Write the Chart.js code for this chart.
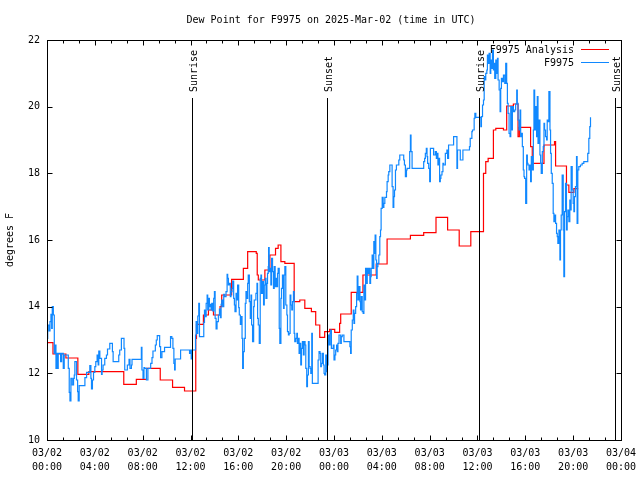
<!DOCTYPE html>
<html lang="en">
<head>
<meta charset="UTF-8">
<title>Dew Point for F9975</title>
<script src="https://cdn.jsdelivr.net/npm/chart.js@4"></script>
<style>
  html, body { margin: 0; padding: 0; background: #fff; }
</style>
</head>
<body>
<canvas id="dewChart" width="640" height="480"></canvas>
<script>
const titleText = 'Dew Point for F9975 on 2025-Mar-02 (time in UTC)';
const yLabel = 'degrees F';
const seriesNames = ['F9975 Analysis', 'F9975'];

// hours since 03/02 00:00 UTC
const sunNames = ['Sunrise', 'Sunset', 'Sunrise', 'Sunset'];
const sunHours = [12.12, 23.42, 36.13, 47.53];

// analysis (step values, each holds until the next time)
const redHours = [0, 0.5, 1.58, 2.58, 3.5, 6.42, 7.47, 8.33, 9.47, 10.5, 11.5, 12.44, 12.5, 13.08, 13.5, 13.92, 14.47, 14.61, 15.44, 16.42, 16.78,
  17.5, 17.58, 17.67, 18.22, 18.64, 19.11, 19.33, 19.56, 19.89, 20.67, 21.14, 21.56, 22.11, 22.47, 22.81, 23.22, 23.64, 24.06, 24.47, 24.56,
  25.44, 26.42, 27.53, 28.44, 30.39, 31.5, 32.53, 33.5, 34.47, 35.44, 36.5, 36.69, 36.89, 37.33, 37.53, 38.17, 38.44, 39.0, 39.39, 39.5,
  40.44, 40.58, 41.56, 42.44, 42.53, 43.44, 43.64, 44.06, 44.42];
const redDew = [12.92, 12.58, 12.46, 11.97, 12.05, 11.67, 11.82, 12.15, 11.8, 11.58, 11.47, 13.05, 13.47, 13.75, 13.9, 13.75, 14.0, 14.35, 14.82, 15.15, 15.65,
  15.6, 14.95, 14.8, 15.1, 15.55, 15.75, 15.85, 15.35, 15.3, 14.15, 14.2, 13.95, 13.85, 13.45, 13.08, 13.25, 13.32, 13.23, 13.5, 13.78,
  14.43, 14.95, 15.28, 16.03, 16.14, 16.22, 16.68, 16.3, 15.82, 16.25, 18.0, 18.35, 18.45, 19.3, 19.35, 19.3, 20.02, 20.08, 19.1, 19.38,
  18.8, 18.3, 18.85, 18.95, 18.22, 17.65, 17.43, 17.54, 17.54];

// station observations
const blueHours = [0, 0.06, 0.17, 0.25, 0.33, 0.39, 0.44, 0.53, 0.61, 0.67, 0.75, 0.8, 0.89, 0.94, 1.14, 1.22, 1.36, 1.44, 1.78, 1.86, 1.92,
  2.0, 2.11, 2.22, 2.28, 2.33, 2.47, 2.56, 2.61, 2.69, 3.17, 3.31, 3.58, 3.67, 3.72, 3.8, 3.89, 4.0, 4.08, 4.19, 4.28, 4.33, 4.42, 4.56,
  4.61, 4.69, 4.83, 4.97, 5.06, 5.25, 5.47, 5.53, 6.0, 6.08, 6.22, 6.44, 6.5, 6.72, 6.86, 6.94, 7.06, 7.11, 7.89, 7.94, 8.03, 8.11,
  8.17, 8.31, 8.44, 8.67, 8.78, 8.86, 9.06, 9.14, 9.22, 9.42, 9.5, 9.61, 9.83, 10.33, 10.44, 10.53, 10.61, 10.67, 10.72, 11.17, 11.92,
  12.0, 12.06, 12.14, 12.42, 12.47, 12.56, 12.61, 12.69, 12.75, 13.11, 13.17, 13.25, 13.31, 13.39, 13.44, 13.53, 13.58, 13.67, 13.72,
  13.78, 13.86, 13.94, 14.0, 14.06, 14.14, 14.22, 14.33, 14.42, 14.5, 14.56, 14.61, 14.69, 14.78, 14.83, 14.97, 15.06, 15.11, 15.17,
  15.25, 15.33, 15.39, 15.47, 15.53, 15.61, 15.67, 15.72, 15.81, 15.89, 15.94, 16.03, 16.08, 16.17, 16.22, 16.31, 16.36, 16.42, 16.5,
  16.58, 16.64, 16.72, 16.78, 16.83, 16.92, 17.0, 17.06, 17.11, 17.19, 17.28, 17.33, 17.47, 17.56, 17.61, 17.67, 17.75, 17.83, 17.89,
  17.94, 18.03, 18.11, 18.17, 18.25, 18.31, 18.39, 18.44, 18.5, 18.53, 18.58, 18.67, 18.72, 18.78, 18.86, 18.94, 19.0, 19.08, 19.14,
  19.22, 19.28, 19.33, 19.42, 19.47, 19.56, 19.61, 19.69, 19.78, 19.83, 19.89, 19.97, 20.06, 20.11, 20.19, 20.25, 20.33, 20.39, 20.47,
  20.53, 20.61, 20.67, 20.72, 20.81, 20.89, 20.94, 21.03, 21.08, 21.17, 21.22, 21.28, 21.36, 21.44, 21.5, 21.58, 21.64, 21.72, 21.78,
  21.86, 21.92, 22.0, 22.06, 22.14, 22.19, 22.67, 22.75, 22.83, 22.89, 22.94, 23.03, 23.11, 23.17, 23.22, 23.31, 23.39, 23.44, 23.5,
  23.58, 23.67, 23.72, 23.78, 23.94, 24.0, 24.08, 24.14, 24.22, 24.28, 24.33, 24.42, 24.56, 24.61, 24.69, 24.83, 25.33, 25.39, 25.44,
  25.53, 25.61, 25.67, 25.72, 25.81, 25.89, 25.94, 26.0, 26.08, 26.17, 26.22, 26.28, 26.36, 26.44, 26.5, 26.56, 26.64, 26.72, 26.78,
  26.83, 26.92, 27.0, 27.06, 27.11, 27.19, 27.28, 27.33, 27.39, 27.44, 27.5, 27.56, 27.61, 27.67, 27.75, 27.83, 27.89, 27.94, 28.03,
  28.11, 28.17, 28.25, 28.39, 28.44, 28.53, 28.58, 28.67, 28.86, 28.94, 29.0, 29.06, 29.14, 29.22, 29.42, 29.5, 29.83, 29.89, 29.97,
  30.06, 30.11, 30.33, 30.39, 30.44, 30.53, 31.5, 31.58, 31.64, 31.72, 31.78, 31.83, 31.92, 32.0, 32.06, 32.33, 32.47, 32.56, 32.61,
  32.69, 32.75, 32.83, 32.89, 32.94, 33.03, 33.11, 33.17, 33.31, 33.44, 33.5, 33.58, 34.0, 34.28, 34.33, 34.56, 34.78, 35.33, 35.39,
  35.53, 35.58, 35.72, 35.78, 35.86, 36.28, 36.33, 36.42, 36.5, 36.56, 36.61, 36.69, 36.78, 36.83, 36.89, 36.97, 37.06, 37.11, 37.17,
  37.25, 37.33, 37.39, 37.44, 37.53, 37.61, 37.67, 37.72, 37.81, 37.89, 37.94, 38.0, 38.08, 38.17, 38.28, 38.36, 38.44, 38.5, 38.56,
  38.64, 38.72, 38.78, 38.83, 38.92, 39.0, 39.11, 39.19, 39.28, 39.33, 39.39, 39.47, 39.56, 39.61, 39.67, 39.75, 39.83, 39.89, 39.94,
  40.03, 40.11, 40.17, 40.22, 40.31, 40.39, 40.44, 40.5, 40.58, 40.67, 40.72, 40.78, 40.86, 40.94, 41.0, 41.06, 41.14, 41.22, 41.28,
  41.33, 41.42, 41.5, 41.56, 41.61, 41.69, 41.78, 41.83, 41.89, 41.97, 42.06, 42.11, 42.17, 42.25, 42.33, 42.39, 42.44, 42.53, 42.61,
  42.67, 42.72, 42.81, 42.89, 42.94, 43.0, 43.08, 43.17, 43.22, 43.28, 43.36, 43.44, 43.5, 43.56, 43.64, 43.72, 43.78, 43.83, 43.92,
  44.0, 44.06, 44.11, 44.19, 44.28, 44.33, 44.39, 44.47, 44.61, 44.75, 44.89, 45.11, 45.22, 45.31, 45.39, 45.45];
const blueDew = [13.05, 13.45, 13.27, 13.55, 13.77, 13.35, 14.0, 13.75, 12.6, 12.85, 12.15, 12.6, 12.15, 12.6, 12.35, 12.6, 12.15, 12.55, 12.15, 11.43, 11.17,
  11.85, 11.65, 11.85, 11.95, 12.35, 11.8, 11.45, 11.17, 11.63, 11.87, 12.03, 12.23, 11.85, 11.53, 11.8, 12.03, 12.2, 12.35, 12.55, 12.25, 12.67, 12.45, 11.97,
  12.1, 12.25, 12.45, 12.55, 12.73, 12.9, 12.65, 12.35, 12.55, 12.7, 13.05, 12.75, 12.1, 12.25, 12.42, 12.15, 12.25, 12.42, 12.78, 12.1, 11.85, 12.17,
  12.15, 11.8, 12.15, 12.3, 12.47, 12.67, 12.85, 13.0, 13.13, 12.8, 12.47, 12.65, 12.78, 13.1, 13.05, 12.75, 12.3, 12.1, 12.43, 12.7, 12.6,
  12.7, 12.43, 12.7, 13.15, 13.55, 13.2, 13.72, 14.1, 13.1, 13.53, 13.9, 13.7, 14.1, 14.35, 13.9, 14.25, 14.0, 14.07, 13.9,
  14.1, 13.87, 14.25, 14.45, 13.65, 13.33, 13.55, 13.75, 13.93, 13.67, 14.07, 14.2, 14.0, 14.37, 14.3, 14.45, 14.97, 14.85, 14.65,
  14.7, 14.3, 14.45, 14.55, 14.77, 14.25, 14.05, 13.85, 14.4, 14.2, 14.65, 13.97, 13.75, 13.47, 13.7, 13.05, 12.15, 12.65, 13.05,
  14.1, 14.45, 14.25, 14.7, 14.95, 14.15, 13.65, 14.35, 13.45, 12.95, 14.0, 14.2, 14.4, 14.7, 13.65, 13.45, 12.9, 14.85, 14.95,
  14.4, 14.75, 14.05, 14.65, 14.85, 14.25, 14.7, 15.0, 15.2, 15.77, 15.05, 15.15, 14.65, 15.45, 15.05, 14.55, 15.2, 14.6, 14.85,
  14.6, 15.0, 15.15, 13.35, 12.9, 14.25, 14.55, 14.95, 13.95, 14.95, 15.2, 14.05, 13.75, 13.25, 13.15, 13.2, 14.35, 14.05, 13.9,
  14.15, 14.45, 13.2, 12.95, 13.05, 13.2, 12.9, 13.05, 12.6, 12.9, 12.25, 12.75, 12.95, 12.55, 12.95, 12.85, 12.15, 11.6, 11.95,
  12.95, 12.2, 12.15, 12.0, 13.2, 11.7, 12.4, 12.65, 12.6, 12.2, 12.3, 12.6, 12.25, 12.0, 11.95, 12.55, 12.05, 12.25, 13.15,
  12.85, 13.2, 13.3, 12.75, 12.85, 12.4, 12.55, 12.7, 12.85, 12.65, 12.9, 13.15, 12.9, 13.1, 13.15, 12.95, 12.8, 12.6, 13.3,
  13.6, 13.9, 13.5, 13.8, 14.0, 14.4, 14.92, 14.2, 14.6, 14.15, 13.9, 14.3, 13.85, 13.8, 14.65, 14.2, 15.15, 14.7, 15.15,
  15.0, 15.15, 14.7, 14.9, 15.15, 15.55, 15.15, 15.95, 15.6, 16.15, 15.4, 14.85, 15.2, 15.3, 15.55, 16.1, 16.3, 16.95, 17.28,
  16.98, 17.1, 17.28, 17.45, 17.75, 17.95, 18.05, 18.25, 17.6, 16.98, 17.3, 17.5, 18.1, 18.25, 18.4, 18.55, 18.4, 18.25, 17.9,
  18.1, 18.15, 18.65, 19.15, 18.65, 18.15, 18.35, 18.45, 18.6, 18.75, 18.5, 18.3, 18.15, 17.75, 18.75, 18.55, 18.65, 18.45, 18.6,
  18.25, 18.45, 17.75, 17.85, 17.95, 18.05, 18.3, 18.25, 18.6, 18.7, 18.45, 18.85, 19.1, 18.15, 18.7, 18.4, 18.7, 18.8, 19.05,
  19.25, 19.3, 19.65, 19.8, 19.68, 19.4, 19.7, 20.05, 20.2, 20.9, 20.8, 21.0, 21.1, 21.55, 21.3, 21.6, 21.0, 21.4, 21.15,
  21.7, 21.1, 21.3, 20.85, 21.4, 21.0, 21.45, 20.8, 20.5, 19.85, 20.55, 20.85, 20.75, 20.95, 20.7, 21.3, 20.7, 20.1, 19.8,
  19.2, 19.1, 20.0, 19.3, 20.0, 19.85, 19.9, 20.08, 20.5, 20.1, 19.6, 19.3, 19.9, 19.1, 19.2, 18.8, 18.1, 17.9, 17.85,
  17.1, 18.55, 18.3, 18.25, 18.1, 18.25, 17.75, 18.5, 18.1, 19.3, 20.5, 19.3, 20.0, 19.1, 20.3, 18.9, 19.6, 18.55, 18.3,
  18.0, 18.65, 18.8, 19.5, 19.3, 19.1, 19.0, 19.6, 19.55, 20.45, 19.3, 18.6, 18.0, 17.7, 16.8, 16.55, 16.75, 16.5, 16.2,
  16.1, 15.9, 16.3, 15.4, 16.3, 16.75, 17.95, 16.3, 14.9, 16.85, 17.7, 16.3, 16.7, 16.9, 16.55, 17.2, 16.9, 18.2, 17.5,
  17.1, 16.85, 17.3, 17.6, 18.5, 16.5, 18.1, 18.2, 18.25, 18.3, 18.35, 18.35, 18.6, 19.05, 19.4, 19.68];

const xTicks = [0, 4, 8, 12, 16, 20, 24, 28, 32, 36, 40, 44, 48];
const yTicks = [10, 12, 14, 16, 18, 20, 22];

const monoFont = 'DejaVu Sans Mono';
const redColor = '#ff0000';
const blueColor = '#1088ff';

function hourLabel(h) {
    const day = 2 + Math.floor(h / 24);
    const hr = h % 24;
    return ['03/0' + day, String(hr).padStart(2, '0') + ':00'];
}

// gnuplot-ish frame: border box, inward ticks, sun lines, legend, title
const framePlugin = {
    id: 'frame',
    afterDatasetsDraw(chart) {
        const ctx = chart.ctx;
        const area = chart.chartArea;
        const xs = chart.scales.x;
        const ys = chart.scales.y;
        const L = Math.round(area.left) + 0.5;
        const R = Math.round(area.right) + 0.5;
        const T = Math.round(area.top) + 0.5;
        const B = Math.round(area.bottom) + 0.5;

        ctx.save();
        ctx.strokeStyle = '#000';
        ctx.lineWidth = 1;

        // sunrise / sunset lines
        ctx.font = '10px ' + monoFont;
        ctx.fillStyle = '#000';
        sunHours.forEach((h, i) => {
            const x = Math.round(xs.getPixelForValue(h)) + 0.5;
            ctx.beginPath();
            ctx.moveTo(x, 98);
            ctx.lineTo(x, B);
            ctx.stroke();
            ctx.save();
            ctx.translate(x + 2, 92);
            ctx.rotate(-Math.PI / 2);
            ctx.textAlign = 'left';
            ctx.textBaseline = 'middle';
            ctx.fillText(sunNames[i], 0, 0);
            ctx.restore();
        });

        ctx.strokeRect(L, T, R - L, B - T);

        ctx.beginPath();
        yTicks.forEach(v => {
            const y = Math.round(ys.getPixelForValue(v)) + 0.5;
            ctx.moveTo(L, y); ctx.lineTo(L + 5, y);
            ctx.moveTo(R, y); ctx.lineTo(R - 5, y);
        });
        for (let h = 0; h <= 48; h += 4 / 3) {
            const major = Math.abs(h / 4 - Math.round(h / 4)) < 1e-6;
            const len = major ? 5 : 3;
            const x = Math.round(xs.getPixelForValue(h)) + 0.5;
            ctx.moveTo(x, B); ctx.lineTo(x, B - len);
            ctx.moveTo(x, T); ctx.lineTo(x, T + len);
        }
        ctx.stroke();

        // legend
        const colors = [redColor, blueColor];
        ctx.textAlign = 'right';
        ctx.textBaseline = 'middle';
        seriesNames.forEach((name, i) => {
            const y = 50 + i * 13;
            ctx.fillStyle = '#000';
            ctx.fillText(name, 574, y);
            ctx.strokeStyle = colors[i];
            ctx.beginPath();
            ctx.moveTo(581, y - 0.5);
            ctx.lineTo(609, y - 0.5);
            ctx.stroke();
        });

        // title
        ctx.fillStyle = '#000';
        ctx.textAlign = 'center';
        ctx.fillText(titleText, 331, 20);
        ctx.restore();
    }
};

const ctx = document.getElementById('dewChart').getContext('2d');
new Chart(ctx, {
    type: 'line',
    data: {
        datasets: [{
            label: seriesNames[0],
            data: redHours.map((h, i) => ({ x: h, y: redDew[i] })),
            borderColor: redColor,
            borderWidth: 1.2,
            pointRadius: 0,
            stepped: 'before',
            fill: false,
            order: 1
        }, {
            label: seriesNames[1],
            data: blueHours.map((h, i) => ({ x: h, y: blueDew[i] })),
            borderColor: blueColor,
            borderWidth: 1.2,
            pointRadius: 0,
            stepped: 'before',
            fill: false,
            order: 0
        }]
    },
    options: {
        responsive: false,
        animation: false,
        devicePixelRatio: 1,
        layout: { padding: { left: 0, right: 19, top: 40, bottom: 0 } },
        plugins: {
            legend: { display: false },
            tooltip: { enabled: false },
            title: { display: false }
        },
        scales: {
            x: {
                type: 'linear',
                min: 0,
                max: 48,
                afterBuildTicks: s => { s.ticks = xTicks.map(v => ({ value: v })); },
                afterFit: s => { s.height = 40; s.paddingLeft = 0; s.paddingRight = 0; },
                grid: { display: false, drawTicks: false },
                border: { display: false },
                ticks: {
                    callback: v => hourLabel(v),
                    maxRotation: 0,
                    autoSkip: false,
                    padding: 6,
                    color: '#000',
                    font: { family: monoFont, size: 10, lineHeight: 1.4 }
                }
            },
            y: {
                min: 10,
                max: 22,
                afterBuildTicks: s => { s.ticks = yTicks.map(v => ({ value: v })); },
                afterFit: s => { s.width = 47; },
                grid: { display: false, drawTicks: false },
                border: { display: false },
                title: {
                    display: true,
                    text: yLabel,
                    color: '#000',
                    padding: { top: 4, bottom: 0 },
                    font: { family: monoFont, size: 10 }
                },
                ticks: {
                    padding: 7,
                    color: '#000',
                    font: { family: monoFont, size: 10 }
                }
            }
        }
    },
    plugins: [framePlugin]
});
</script>
</body>
</html>
